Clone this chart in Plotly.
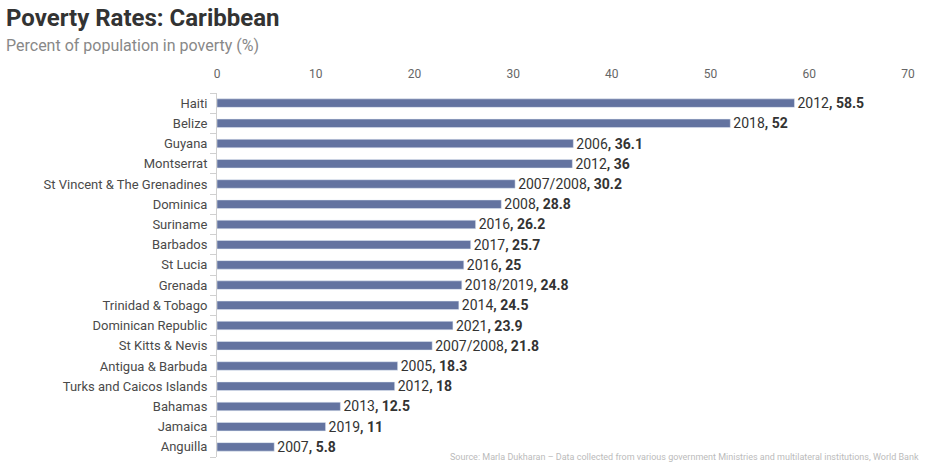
import plotly.graph_objects as go

countries = ["Haiti", "Belize", "Guyana", "Montserrat", "St Vincent & The Grenadines",
             "Dominica", "Suriname", "Barbados", "St Lucia", "Grenada",
             "Trinidad & Tobago", "Dominican Republic", "St Kitts & Nevis",
             "Antigua & Barbuda", "Turks and Caicos Islands", "Bahamas", "Jamaica", "Anguilla"]
rates = [58.5, 52, 36.1, 36, 30.2, 28.8, 26.2, 25.7, 25, 24.8, 24.5, 23.9, 21.8, 18.3, 18, 12.5, 11, 5.8]
years = ["2012", "2018", "2006", "2012", "2007/2008", "2008", "2016", "2017", "2016", "2018/2019",
         "2014", "2021", "2007/2008", "2005", "2012", "2013", "2019", "2007"]
x_ticks = [0, 10, 20, 30, 40, 50, 60, 70]

FONT = "Roboto"
W, H = 950, 472
L, R, T, B = 217, 42, 93, 15
PW, PH = W - L - R, H - T - B


def px(x):
    return (x - L) / PW


def py(y):
    return (H - B - y) / PH


labels = [f"{y}<b>, {v:g}</b>" for y, v in zip(years, rates)]

fig = go.Figure(go.Bar(
    x=rates, y=countries, orientation="h", width=0.42,
    marker=dict(color="#6373a0"),
    text=labels, textposition="outside", cliponaxis=False, constraintext="none",
    textfont=dict(family=FONT, size=14, color="#333333"),
))

fig.update_layout(
    width=W, height=H,
    margin=dict(l=L, r=R, t=T, b=B, autoexpand=False),
    paper_bgcolor="white", plot_bgcolor="white",
    font=dict(family=FONT, color="#555555"),
    showlegend=False,
    xaxis=dict(side="top", range=[0, 70], tickvals=x_ticks, showgrid=False, zeroline=False,
               showline=False, ticks="", ticklabelstandoff=12,
               tickfont=dict(size=12, color="#666666")),
    yaxis=dict(categoryorder="array", categoryarray=countries[::-1], showgrid=False,
               showline=True, linecolor="#d0d0d0", linewidth=1, ticks="outside",
               tickson="boundaries", ticklen=6, tickcolor="#d0d0d0", ticklabelstandoff=6,
               tickfont=dict(size=13, color="#4a4a4a")),
    annotations=[
        dict(text="<b>Poverty Rates: Caribbean</b>", x=px(4), y=py(18), xref="paper", yref="paper",
             xanchor="left", yanchor="middle", showarrow=False,
             font=dict(family=FONT, size=24, color="#333333")),
        dict(text="Percent of population in poverty (%)", x=px(4), y=py(45), xref="paper", yref="paper",
             xanchor="left", yanchor="middle", showarrow=False,
             font=dict(family=FONT, size=16, color="#888888")),
        dict(text="Source: Marla Dukharan – Data collected from various government Ministries and multilateral institutions, World Bank",
             x=px(921), y=py(457), xref="paper", yref="paper", xanchor="right", yanchor="middle",
             showarrow=False, font=dict(family=FONT, size=9, color="#bbbbbb")),
    ],
)
fig.write_html("out.html", config={"displayModeBar": False},
               post_script="document.body.style.margin='0';")
